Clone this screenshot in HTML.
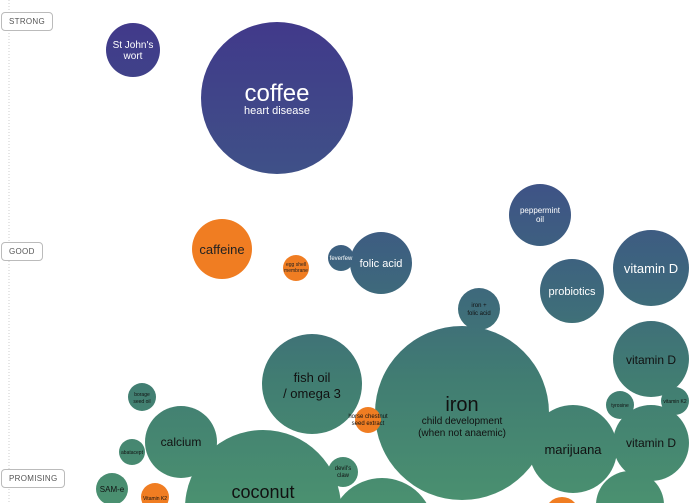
<!DOCTYPE html>
<html><head><style>
html,body{margin:0;padding:0;background:#fff;width:700px;height:503px;overflow:hidden;font-family:"Liberation Sans",sans-serif}
#wrap{position:relative;width:700px;height:503px;overflow:hidden}
.lab{position:absolute;left:1px;background:#fff;border:1px solid #bbb;border-radius:4px;font-size:8px;color:#555;padding:4px 7px;letter-spacing:.3px}
</style></head><body><div id="wrap">
<svg width="700" height="503" viewBox="0 0 700 503" style="position:absolute;left:0;top:0;overflow:hidden;display:block">
<defs><linearGradient id="g" gradientUnits="userSpaceOnUse" x1="0" y1="20" x2="0" y2="500">
<stop offset="0" stop-color="#41398a"/><stop offset="0.3" stop-color="#3f4f88"/><stop offset="0.5" stop-color="#3d627f"/><stop offset="0.75" stop-color="#417d72"/><stop offset="1" stop-color="#4a9070"/></linearGradient>
<clipPath id="c"><rect x="0" y="0" width="700" height="503"/></clipPath></defs>
<g clip-path="url(#c)">
<line x1="9" y1="0" x2="9" y2="503" stroke="#ccc" stroke-dasharray="1,2"/>
<g fill="url(#g)">
<circle cx="133" cy="50" r="27"/><circle cx="277" cy="98" r="76"/>
<circle cx="341" cy="258" r="13"/><circle cx="381" cy="263" r="31"/>
<circle cx="540" cy="215" r="31"/><circle cx="651" cy="268" r="38"/>
<circle cx="572" cy="291" r="32"/><circle cx="479" cy="309" r="21"/>
<circle cx="312" cy="384" r="50"/><circle cx="462" cy="413" r="87"/>
<circle cx="651" cy="359" r="38"/><circle cx="675" cy="401" r="14"/>
<circle cx="620" cy="405" r="14"/><circle cx="651" cy="443" r="38"/>
<circle cx="573" cy="449" r="44"/><circle cx="142" cy="397" r="14"/>
<circle cx="181" cy="442" r="36"/><circle cx="132" cy="452" r="13"/>
<circle cx="112" cy="489" r="16"/><circle cx="263" cy="508" r="78"/>
<circle cx="343" cy="472" r="15"/><circle cx="382" cy="530" r="52"/>
<circle cx="630" cy="505" r="34"/>
</g>
<g fill="#f07d22">
<circle cx="222" cy="249" r="30"/><circle cx="296" cy="268" r="13"/>
<circle cx="368" cy="420" r="13"/><circle cx="155" cy="497" r="14"/>
<circle cx="562" cy="514" r="17"/>
</g>
</g>
<g font-family="Liberation Sans,sans-serif" text-anchor="middle" fill="#fff">
<text x="133" y="48" font-size="10">St John's</text><text x="133" y="59" font-size="10">wort</text>
<text x="277" y="101" font-size="24">coffee</text><text x="277" y="114" font-size="11">heart disease</text>
<text x="222" y="254" font-size="13" fill="#222">caffeine</text>
<text x="296" y="266" font-size="5" fill="#222">egg shell</text><text x="296" y="272" font-size="5" fill="#222">membrane</text>
<text x="341" y="260" font-size="6">feverfew</text>
<text x="381" y="267" font-size="11">folic acid</text>
<text x="540" y="213" font-size="8">peppermint</text><text x="540" y="222" font-size="8">oil</text>
<text x="651" y="273" font-size="13">vitamin D</text>
<text x="572" y="295" font-size="11">probiotics</text>
</g>
<g font-family="Liberation Sans,sans-serif" text-anchor="middle" fill="#111">
<text x="479" y="307" font-size="6">iron +</text><text x="479" y="315" font-size="6">folic acid</text>
<text x="312" y="382" font-size="13">fish oil</text><text x="312" y="398" font-size="13">/ omega 3</text>
<text x="462" y="411" font-size="20">iron</text><text x="462" y="424" font-size="10">child development</text><text x="462" y="436" font-size="10">(when not anaemic)</text>
<text x="651" y="364" font-size="12">vitamin D</text>
<text x="675" y="403" font-size="5">vitamin K2</text>
<text x="620" y="407" font-size="5">tyrosine</text>
<text x="651" y="447" font-size="12">vitamin D</text>
<text x="573" y="454" font-size="13">marijuana</text>
<text x="368" y="418" font-size="6">horse chestnut</text><text x="368" y="425" font-size="6">seed extract</text>
<text x="142" y="396" font-size="5">borage</text><text x="142" y="403" font-size="5">seed oil</text>
<text x="181" y="446" font-size="12">calcium</text>
<text x="132" y="454" font-size="5">abatacept</text>
<text x="112" y="492" font-size="8">SAM-e</text>
<text x="155" y="500" font-size="5">Vitamin K2</text>
<text x="263" y="498" font-size="18">coconut</text>
<text x="343" y="470" font-size="6">devil's</text><text x="343" y="477" font-size="6">claw</text>
</g>
</svg>
<div class="lab" style="top:12px">STRONG</div>
<div class="lab" style="top:242px">GOOD</div>
<div class="lab" style="top:469px">PROMISING</div>
</div></body></html>
